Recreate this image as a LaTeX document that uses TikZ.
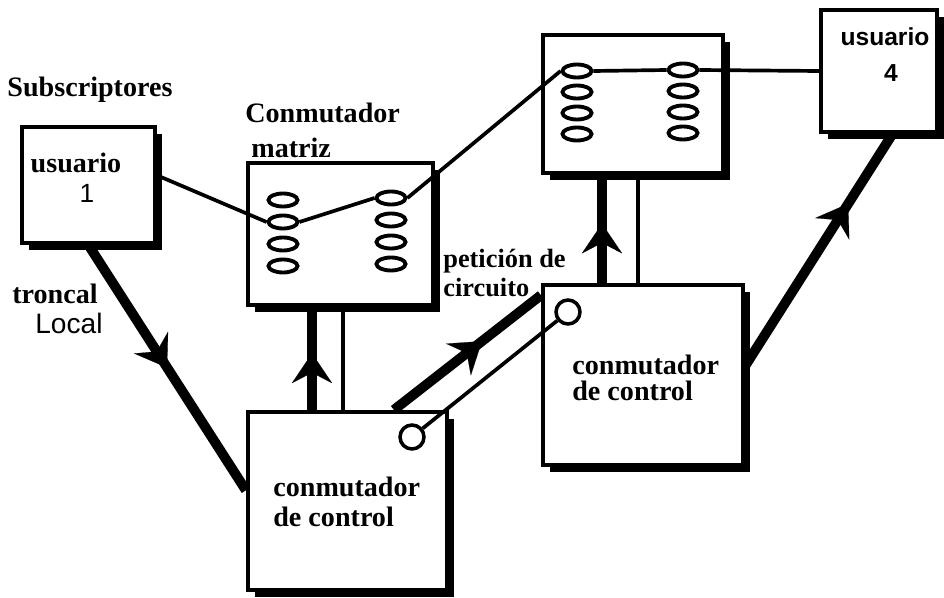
\documentclass[tikz,border=0pt]{standalone}
\usepackage{fontspec}
\setmainfont{Liberation Serif}
\setsansfont{Liberation Sans}
\usetikzlibrary{
    arrows.meta,
    shapes.geometric,
    shadows,
    decorations.markings,
    positioning
}
\tikzset{
    caja/.style={draw, line width=2.4pt, fill=white, inner sep=0pt,
        drop shadow={shadow xshift=4pt, shadow yshift=-4pt, fill=black, opacity=1}},
    ovalo/.style={draw, ellipse, line width=2.2pt, fill=white, minimum width=0.58cm, minimum height=0.26cm, inner sep=0pt},
    disco/.style={draw, circle, line width=2pt, fill=white, minimum size=0.48cm, inner sep=0pt},
    texto/.style={font=\fontsize{16}{18}\selectfont\bfseries, inner sep=0pt},
    textosf/.style={font=\fontsize{15}{17}\selectfont\sffamily, inner sep=0pt},
    textosfb/.style={font=\fontsize{14}{16}\selectfont\sffamily\bfseries, inner sep=0pt},
    fino/.style={line width=2.1pt},
    grueso/.style={line width=5.6pt},
    flecha/.style={postaction={decorate}, decoration={markings,
        mark=at position #1 with {\arrow{Stealth[length=17pt, width=23pt, inset=6pt, line width=0.1pt]}}}}
}

\begin{document}
\begin{tikzpicture}[x=0.02cm, y=-0.02cm]
                        \useasboundingbox (0, 0) rectangle (944, 598);

                        \node[caja, minimum width=2.66cm, minimum height=2.32cm] (u1) at (88.5, 185) {};
                        \node[caja, minimum width=2.32cm, minimum height=2.44cm] (u4) at (879, 71) {};
                        \node[caja, minimum width=3.98cm, minimum height=3.56cm] (ctl1) at (347.5, 501) {};
                        \node[caja, minimum width=4cm, minimum height=3.6cm] (ctl2) at (643, 375) {};

                        \begin{scope}[shift={(340.5, 234)}]
                            \node[caja, minimum width=3.7cm, minimum height=2.84cm] (mat1) at (0, 0) {};
                            \foreach \i in {1,...,4} {
                                \node[ovalo] (m1l\i) at (-57.5, {-56+22*\i}) {};
                                \node[ovalo] (m1r\i) at (50.5, {-58+22*\i}) {};
                            }
                        \end{scope}
                        \begin{scope}[shift={(633, 104)}]
                            \node[caja, minimum width=3.6cm, minimum height=2.76cm] (mat2) at (0, 0) {};
                            \foreach \i in {1,...,4} {
                                \node[ovalo] (m2l\i) at (-56, {-54+21*\i}) {};
                                \node[ovalo] (m2r\i) at (50, {-55+21*\i}) {};
                            }
                        \end{scope}

                        \node[disco] (c1) at (412, 437) {};
                        \node[disco] (c2) at (568, 312) {};

                        \node[texto] (subs) at (90, 90) {Subscriptores};
                        \node[texto, anchor=west] (conm) at (245, 113) {Conmutador};
                        \node[texto, anchor=west] (matriz) at (251, 148) {matriz};
                        \node[texto] (usu1) at (76, 163) {usuario};
                        \node[textosf] (num1) at (87, 193) {1};
                        \node[textosfb] (usu4) at (885, 37) {usuario};
                        \node[textosfb] (num4) at (891, 73) {4};
                        \node[texto, anchor=west] (tronc) at (12, 294) {troncal};
                        \node[textosf, font=\fontsize{16}{18}\selectfont\sffamily, anchor=west] (local) at (35, 323) {Local};
                        \node[texto, font=\fontsize{15}{17}\selectfont\bfseries, anchor=west] (pet) at (443, 261) {petición de};
                        \node[texto, font=\fontsize{15}{17}\selectfont\bfseries, anchor=west] (circ) at (443, 288) {circuito};
                        \node[texto, anchor=west] (ctl1a) at (273, 487) {conmutador};
                        \node[texto, anchor=west] (ctl1b) at (273, 517) {de control};
                        \node[texto, anchor=west] (ctl2a) at (572, 365) {conmutador};
                        \node[texto, anchor=west] (ctl2b) at (572, 391) {de control};

                        \coordinate (xa) at (312, 0);
                        \coordinate (xb) at (343, 0);
                        \coordinate (xc) at (602, 0);
                        \coordinate (xd) at (638, 0);

                        \draw[fino]
                        (u1.8) -- (m1l2.west)
                        (m1l2.east) -- (m1r1.west)
                        (m1r1.east) -- (m2l1.west)
                        (m2l1.east) -- (m2r1.west)
                        (m2r1.east) -- (u4.west)
                        (xb |- ctl1.north) -- (xb |- mat1.south)
                        (xd |- ctl2.north) -- (xd |- mat2.south)
                        (c1) -- (c2);

                        \draw[grueso, flecha=0.5] (u1.south) -- (ctl1.174);
                        \draw[grueso, flecha=0.55] (xa |- ctl1.north) -- (xa |- mat1.south);
                        \draw[grueso, flecha=0.55] (xc |- ctl2.north) -- (xc |- mat2.south);
                        \draw[grueso, flecha=0.6] (ctl1.63) -- (ctl2.142);
                        \draw[grueso, flecha=0.7] (ctl2.5) -- (u4.282);
\end{tikzpicture}
\end{document}
